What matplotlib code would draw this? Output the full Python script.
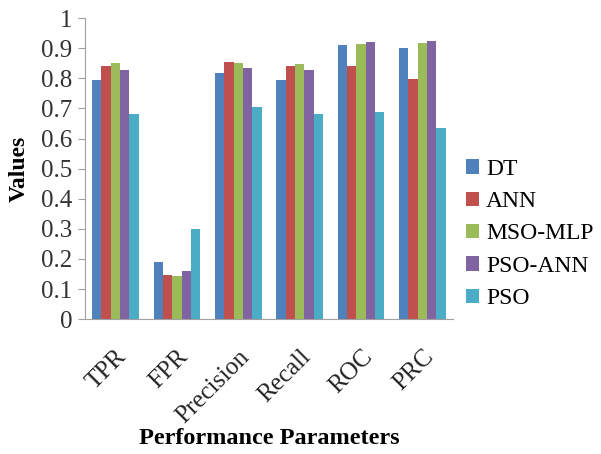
import numpy as np
import matplotlib
matplotlib.use("Agg")
import matplotlib.pyplot as plt

# data
params = ["TPR", "FPR", "Precision", "Recall", "ROC", "PRC"]
models = ["DT", "ANN", "MSO-MLP", "PSO-ANN", "PSO"]
dt = [0.794, 0.189, 0.817, 0.794, 0.912, 0.901]
ann = [0.840, 0.146, 0.856, 0.840, 0.840, 0.797]
mso_mlp = [0.850, 0.144, 0.852, 0.849, 0.915, 0.916]
pso_ann = [0.829, 0.160, 0.836, 0.829, 0.921, 0.925]
pso = [0.683, 0.299, 0.705, 0.683, 0.689, 0.636]
colors = ["#4F81BD", "#C0504D", "#9BBB59", "#8064A2", "#4BACC6"]

plt.rcParams["font.family"] = ["Liberation Serif", "DejaVu Serif"]

fig = plt.figure(figsize=(6.01, 4.54), dpi=100)
ax = fig.add_axes([0.141, 0.297, 0.613, 0.663])

x = np.arange(len(params))
w = 0.76 / len(models)
for i, (vals, name) in enumerate(zip([dt, ann, mso_mlp, pso_ann, pso], models)):
    ax.bar(x + (i - 2) * w, vals, w, color=colors[i], label=name)

ax.set_xlim(-0.5, len(params) - 0.5)
ax.set_ylim(0, 1)
ax.set_yticks(np.arange(0, 1.01, 0.1))
ax.set_yticklabels(["0", "0.1", "0.2", "0.3", "0.4", "0.5", "0.6", "0.7", "0.8", "0.9", "1"])
ax.set_xticks(x)
ax.set_xticklabels(params, rotation=45, ha="right", rotation_mode="anchor")

for s in ["top", "right"]:
    ax.spines[s].set_visible(False)
for s in ["left", "bottom"]:
    ax.spines[s].set_color("#A0A0A0")
ax.tick_params(axis="y", colors="#A0A0A0", labelcolor="#333333", labelsize=18, length=5, pad=4)
ax.tick_params(axis="x", length=0, labelsize=18, pad=19, labelcolor="#222222")

ax.set_ylabel("Values", fontsize=17, fontweight="bold")
ax.yaxis.set_label_coords(-0.15, 0.5)
fig.text(0.5 * (0.141 * 2 + 0.613), 1 - 438 / 454, "Performance Parameters",
         fontsize=17.5, fontweight="bold", ha="center", va="center")

ax.legend(loc="center left", bbox_to_anchor=(0.99, 0.283), frameon=False,
          fontsize=17, handlelength=0.55, handleheight=0.55, handletextpad=0.3,
          labelspacing=0.48, borderpad=0.2)

fig.savefig("out.png", dpi=100)
